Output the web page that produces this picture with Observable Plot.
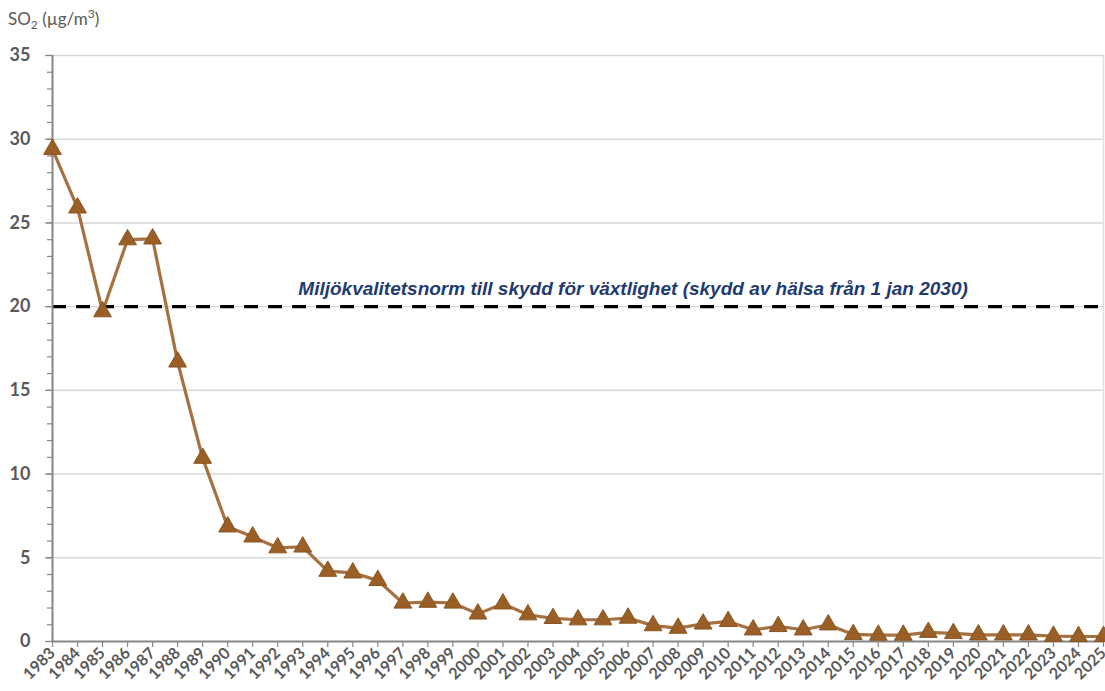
<!DOCTYPE html>
<html>
<head>
<meta charset="utf-8">
<script src="https://cdn.jsdelivr.net/npm/d3@7"></script>
<script src="https://cdn.jsdelivr.net/npm/@observablehq/plot@0.6"></script>
<style>
  html, body { margin: 0; padding: 0; background: #fff; }
  #chart { width: 1105px; height: 691px; overflow: hidden; }
</style>
</head>
<body>
<div id="chart"></div>
<script>
const years = [1983,1984,1985,1986,1987,1988,1989,1990,1991,1992,1993,1994,1995,1996,1997,1998,1999,2000,2001,2002,2003,2004,2005,2006,2007,2008,2009,2010,2011,2012,2013,2014,2015,2016,2017,2018,2019,2020,2021,2022,2023,2024,2025];
const so2 = [29.4,25.9,19.7,24.0,24.05,16.7,10.95,6.85,6.25,5.6,5.65,4.2,4.1,3.65,2.3,2.35,2.3,1.65,2.25,1.6,1.38,1.3,1.3,1.4,0.95,0.8,1.05,1.2,0.7,0.9,0.7,1.0,0.42,0.38,0.38,0.55,0.48,0.4,0.4,0.4,0.32,0.3,0.3];
const yMajorTicks = [0,5,10,15,20,25,30,35];
const yMinorTicks = [0,1,2,3,4,5,6,7,8,9,10,11,12,13,14,15,16,17,18,19,20,21,22,23,24,25,26,27,28,29,30,31,32,33,34,35];
const normValue = 20;
const normLabel = "Miljökvalitetsnorm till skydd för växtlighet (skydd av hälsa från 1 jan 2030)";
const yLabelParts = [["SO", ""], ["2", "sub"], [" (µg/m", ""], ["3", "super"], [")", ""]];

const data = years.map((year, i) => ({year, value: so2[i]}));

const axisColor = "#868686";
const textColor = "#595959";
const lineColor = "#9c622c";

const chart = Plot.plot({
  width: 1105,
  height: 691,
  marginLeft: 52,
  marginRight: 2,
  marginTop: 55,
  marginBottom: 50,
  style: {background: "#fff", overflow: "visible"},
  x: {domain: [1983, 2025]},
  y: {domain: [0, 35]},
  marks: [
    Plot.gridY(yMajorTicks.filter(d => d > 0), {stroke: "#d9d9d9", strokeOpacity: 1, strokeWidth: 1.5}),
    Plot.ruleX([2025], {y1: 0, y2: 35, stroke: "#e0e0e0", strokeWidth: 1.5}),
    Plot.ruleY([normValue], {x1: 1983, x2: 2024.8, stroke: "#000", strokeWidth: 3.2, strokeDasharray: "14,10"}),
    Plot.text([normLabel], {x: 2006.2, y: normValue, dy: -18, text: d => d, fill: "#1f3b70", fontSize: 19, fontWeight: "bold", fontStyle: "italic", fontFamily: "Liberation Sans, Arial, sans-serif"}),
    Plot.axisY({ticks: yMinorTicks, tickFormat: () => "", tickSize: 5, stroke: axisColor, strokeWidth: 1.2, label: null}),
    Plot.axisY({ticks: yMajorTicks, tickSize: 7, tickPadding: 15, stroke: axisColor, strokeWidth: 1.2, fill: textColor, fontSize: 18, fontWeight: "bold", fontFamily: "Lato, sans-serif", label: null}),
    Plot.axisX({ticks: years, tickFormat: d => String(d), tickSize: 6, tickPadding: 3, tickRotate: -45, stroke: axisColor, strokeWidth: 1.2, fill: textColor, fontSize: 16, fontWeight: "bold", fontFamily: "Lato, sans-serif", label: null}),
    Plot.ruleX([1983], {y1: 0, y2: 35, stroke: axisColor, strokeWidth: 2}),
    Plot.ruleY([0], {stroke: axisColor, strokeWidth: 2}),
    Plot.line(data, {x: "year", y: "value", stroke: lineColor, strokeWidth: 3.2, strokeOpacity: 0.9}),
    Plot.dot(data, {x: "year", y: "value", symbol: "triangle", r: 6.6, fill: "#9a5f27", stroke: "#8a5420", strokeWidth: 1})
  ]
});

// y-axis title with real subscript / superscript
const svg = d3.select(chart.tagName.toLowerCase() === "svg" ? chart : chart.querySelector("svg"));
const t = svg.append("text")
  .attr("x", 8).attr("y", 25)
  .attr("text-anchor", "start")
  .attr("fill", textColor)
  .attr("font-size", 17)
  .attr("font-family", "Lato, sans-serif");
let prevShift = "";
for (const [s, shift] of yLabelParts) {
  const ts = t.append("tspan").text(s);
  let dy = 0;
  if (prevShift === "sub") dy -= 4;
  if (prevShift === "super") dy += 7;
  if (shift === "sub") { ts.attr("font-size", 12); dy += 4; }
  if (shift === "super") { ts.attr("font-size", 12); dy -= 7; }
  ts.attr("dy", dy);
  prevShift = shift;
}
document.getElementById("chart").appendChild(chart);
</script>
</body>
</html>
